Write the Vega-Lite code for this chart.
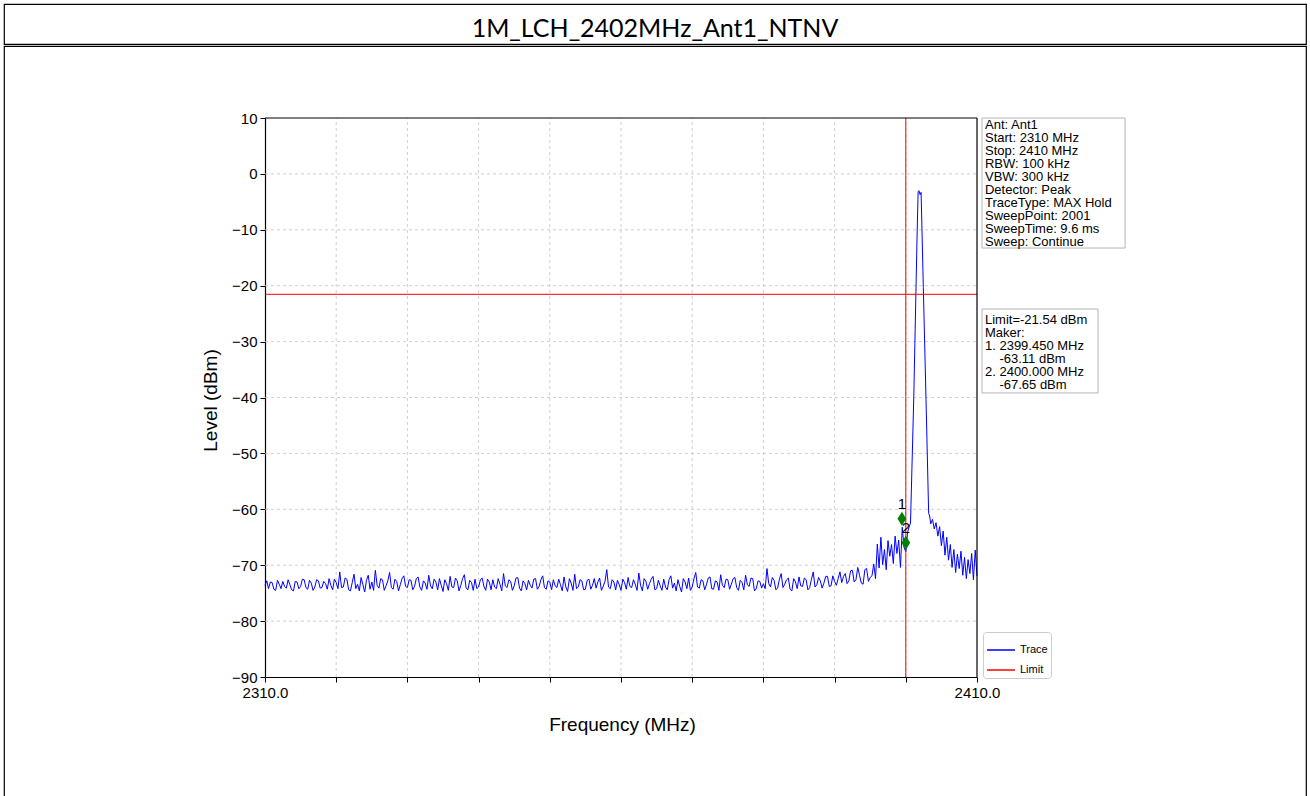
{
  "$schema": "https://vega.github.io/schema/vega-lite/v6.json",
  "padding": {"left": 3, "top": 3, "right": 3, "bottom": 0},
  "background": "white",
  "spacing": 0,
  "config": {
    "font": "Liberation Sans",
    "view": {"stroke": "#000000", "strokeWidth": 1.2},
    "concat": {"spacing": 0}
  },
  "vconcat": [
    {
      "width": 1302,
      "height": 40,
      "view": {"stroke": "#000000", "strokeWidth": 1.2, "fill": "#ffffff"},
      "data": {"values": [{"t": "1M_LCH_2402MHz_Ant1_NTNV"}]},
      "mark": {"type": "text", "font": "Lato", "fontSize": 25, "dy": 5, "color": "#000000"},
      "encoding": {"text": {"field": "t", "type": "nominal"}}
    },
    {
      "width": 1302,
      "height": 760,
      "layer": [
        {
          "data": {"values": [{"g": 2320}, {"g": 2330}, {"g": 2340}, {"g": 2350}, {"g": 2360}, {"g": 2370}, {"g": 2380}, {"g": 2390}, {"g": 2400}]},
          "mark": {"type": "rule", "color": "#c4c4c4", "strokeDash": [3, 3], "strokeWidth": 0.8},
          "encoding": {
            "x": {"field": "g", "type": "quantitative", "scale": {"domain": [2310, 2410], "range": [261, 973], "nice": false, "zero": false}, "axis": {
              "title": "Frequency (MHz)", "offset": -129,
              "values": [2310, 2320, 2330, 2340, 2350, 2360, 2370, 2380, 2390, 2400, 2410],
              "labelExpr": "datum.value == 2310 || datum.value == 2410 ? format(datum.value, '.1f') : ''",
              "labelFlush": false, "labelOverlap": false, "labelBound": false,
              "labelFontSize": 15, "labelColor": "#000000", "labelPadding": 3,
              "tickSize": 5, "tickColor": "#000000", "tickWidth": 1,
              "domainColor": "#000000", "domainWidth": 1.2, "grid": false,
              "titleFontSize": 19, "titleFontWeight": "normal", "titleColor": "#000000",
              "titleX": 618, "titleY": 47, "titleBaseline": "middle", "titleAlign": "center"
            }},
            "y": {"datum": -90, "type": "quantitative", "scale": {"domain": [-90, 10], "range": [631, 72], "nice": false, "zero": false}, "axis": {
              "title": "Level (dBm)", "offset": -261,
              "values": [-90, -80, -70, -60, -50, -40, -30, -20, -10, 0, 10],
              "format": "d",
              "labelFlush": false, "labelOverlap": false, "labelBound": false,
              "labelFontSize": 15, "labelColor": "#000000", "labelPadding": 3,
              "tickSize": 5, "tickColor": "#000000", "tickWidth": 1,
              "domainColor": "#000000", "domainWidth": 1.2, "grid": false,
              "titleFontSize": 19, "titleFontWeight": "normal", "titleColor": "#000000",
              "titleX": -55, "titleY": 354, "titleAngle": 270, "titleBaseline": "middle", "titleAlign": "center"
            }},
            "y2": {"datum": 10}
          }
        },
        {
          "data": {"values": [{"g": 0}, {"g": -10}, {"g": -20}, {"g": -30}, {"g": -40}, {"g": -50}, {"g": -60}, {"g": -70}, {"g": -80}]},
          "mark": {"type": "rule", "color": "#c4c4c4", "strokeDash": [3, 3], "strokeWidth": 0.8},
          "encoding": {
            "y": {"field": "g", "type": "quantitative"},
            "x": {"datum": 2310, "type": "quantitative"},
            "x2": {"datum": 2410}
          }
        },
        {
          "data": {"values": [
            {"f":2310,"v":-73.6},{"f":2310.25,"v":-72.8},{"f":2310.5,"v":-74.2},{"f":2310.75,"v":-73.0},{"f":2311,"v":-73.1},{"f":2311.25,"v":-74.3},{"f":2311.5,"v":-74.5},{"f":2311.75,"v":-72.7},{"f":2312,"v":-73.4},{"f":2312.25,"v":-74.2},{"f":2312.5,"v":-72.9},{"f":2312.75,"v":-73.8},{"f":2313,"v":-74.1},{"f":2313.25,"v":-72.6},{"f":2313.5,"v":-73.5},{"f":2313.75,"v":-74.4},{"f":2314,"v":-74.6},{"f":2314.25,"v":-72.9},{"f":2314.5,"v":-73.0},{"f":2314.75,"v":-74.2},{"f":2315,"v":-73.8},{"f":2315.25,"v":-72.5},{"f":2315.5,"v":-72.6},{"f":2315.75,"v":-74.0},{"f":2316,"v":-74.3},{"f":2316.25,"v":-72.7},{"f":2316.5,"v":-73.2},{"f":2316.75,"v":-74.5},{"f":2317,"v":-73.9},{"f":2317.25,"v":-72.6},{"f":2317.5,"v":-72.8},{"f":2317.75,"v":-74.1},{"f":2318,"v":-74.0},{"f":2318.25,"v":-72.9},{"f":2318.5,"v":-73.3},{"f":2318.75,"v":-74.3},{"f":2319,"v":-72.4},{"f":2319.25,"v":-73.6},{"f":2319.5,"v":-74.4},{"f":2319.75,"v":-72.5},{"f":2320,"v":-73.1},
            {"f":2320.25,"v":-74.2},{"f":2320.5,"v":-71.2},{"f":2320.75,"v":-74.0},{"f":2321,"v":-73.9},{"f":2321.25,"v":-72.3},{"f":2321.5,"v":-72.5},{"f":2321.75,"v":-74.4},{"f":2322,"v":-74.6},{"f":2322.25,"v":-73.1},{"f":2322.5,"v":-71.6},{"f":2322.75,"v":-74.2},{"f":2323,"v":-73.4},{"f":2323.25,"v":-74.6},{"f":2323.5,"v":-72.2},{"f":2323.75,"v":-73.5},{"f":2324,"v":-74.8},{"f":2324.25,"v":-72.7},{"f":2324.5,"v":-71.8},{"f":2324.75,"v":-74.3},{"f":2325,"v":-73.0},{"f":2325.25,"v":-74.5},{"f":2325.5,"v":-70.9},{"f":2325.75,"v":-73.6},{"f":2326,"v":-74.1},{"f":2326.25,"v":-72.4},{"f":2326.5,"v":-72.6},{"f":2326.75,"v":-74.5},{"f":2327,"v":-73.7},{"f":2327.25,"v":-72.8},{"f":2327.5,"v":-71.3},{"f":2327.75,"v":-74.0},{"f":2328,"v":-74.3},{"f":2328.25,"v":-72.5},{"f":2328.5,"v":-72.9},{"f":2328.75,"v":-74.6},{"f":2329,"v":-73.5},{"f":2329.25,"v":-72.4},{"f":2329.5,"v":-71.9},{"f":2329.75,"v":-73.8},{"f":2330,"v":-74.0},
            {"f":2330.25,"v":-72.6},{"f":2330.5,"v":-72.7},{"f":2330.75,"v":-74.4},{"f":2331,"v":-73.8},{"f":2331.25,"v":-72.4},{"f":2331.5,"v":-72.1},{"f":2331.75,"v":-73.9},{"f":2332,"v":-74.5},{"f":2332.25,"v":-72.8},{"f":2332.5,"v":-73.2},{"f":2332.75,"v":-74.3},{"f":2333,"v":-71.8},{"f":2333.25,"v":-73.7},{"f":2333.5,"v":-74.2},{"f":2333.75,"v":-72.5},{"f":2334,"v":-73.0},{"f":2334.25,"v":-74.4},{"f":2334.5,"v":-72.4},{"f":2334.75,"v":-73.6},{"f":2335,"v":-74.7},{"f":2335.25,"v":-72.6},{"f":2335.5,"v":-73.3},{"f":2335.75,"v":-74.5},{"f":2336,"v":-72.0},{"f":2336.25,"v":-73.9},{"f":2336.5,"v":-74.0},{"f":2336.75,"v":-72.3},{"f":2337,"v":-72.8},{"f":2337.25,"v":-74.6},{"f":2337.5,"v":-73.6},{"f":2337.75,"v":-72.4},{"f":2338,"v":-71.7},{"f":2338.25,"v":-74.1},{"f":2338.5,"v":-74.4},{"f":2338.75,"v":-72.7},{"f":2339,"v":-73.1},{"f":2339.25,"v":-74.5},{"f":2339.5,"v":-72.5},{"f":2339.75,"v":-74.2},{"f":2340,"v":-73.9},
            {"f":2340.25,"v":-72.6},{"f":2340.5,"v":-72.3},{"f":2340.75,"v":-73.8},{"f":2341,"v":-74.5},{"f":2341.25,"v":-72.5},{"f":2341.5,"v":-73.0},{"f":2341.75,"v":-74.4},{"f":2342,"v":-72.6},{"f":2342.25,"v":-73.9},{"f":2342.5,"v":-74.2},{"f":2342.75,"v":-72.4},{"f":2343,"v":-73.4},{"f":2343.25,"v":-74.6},{"f":2343.5,"v":-71.5},{"f":2343.75,"v":-73.7},{"f":2344,"v":-74.0},{"f":2344.25,"v":-72.6},{"f":2344.5,"v":-72.9},{"f":2344.75,"v":-74.5},{"f":2345,"v":-73.7},{"f":2345.25,"v":-72.3},{"f":2345.5,"v":-72.2},{"f":2345.75,"v":-74.1},{"f":2346,"v":-74.6},{"f":2346.25,"v":-72.8},{"f":2346.5,"v":-73.3},{"f":2346.75,"v":-74.4},{"f":2347,"v":-72.7},{"f":2347.25,"v":-73.6},{"f":2347.5,"v":-74.1},{"f":2347.75,"v":-72.5},{"f":2348,"v":-72.4},{"f":2348.25,"v":-74.3},{"f":2348.5,"v":-73.8},{"f":2348.75,"v":-72.6},{"f":2349,"v":-71.9},{"f":2349.25,"v":-74.0},{"f":2349.5,"v":-74.3},{"f":2349.75,"v":-72.8},{"f":2350,"v":-73.0},
            {"f":2350.25,"v":-74.4},{"f":2350.5,"v":-72.6},{"f":2350.75,"v":-73.7},{"f":2351,"v":-74.0},{"f":2351.25,"v":-72.5},{"f":2351.5,"v":-73.5},{"f":2351.75,"v":-74.6},{"f":2352,"v":-72.1},{"f":2352.25,"v":-73.9},{"f":2352.5,"v":-74.7},{"f":2352.75,"v":-72.4},{"f":2353,"v":-73.2},{"f":2353.25,"v":-74.5},{"f":2353.5,"v":-71.6},{"f":2353.75,"v":-74.2},{"f":2354,"v":-73.9},{"f":2354.25,"v":-72.6},{"f":2354.5,"v":-72.8},{"f":2354.75,"v":-74.4},{"f":2355,"v":-74.3},{"f":2355.25,"v":-72.7},{"f":2355.5,"v":-72.5},{"f":2355.75,"v":-74.3},{"f":2356,"v":-73.6},{"f":2356.25,"v":-72.4},{"f":2356.5,"v":-74.1},{"f":2356.75,"v":-73.0},{"f":2357,"v":-72.3},{"f":2357.25,"v":-74.5},{"f":2357.5,"v":-73.8},{"f":2357.75,"v":-72.9},{"f":2358,"v":-70.8},{"f":2358.25,"v":-73.9},{"f":2358.5,"v":-74.2},{"f":2358.75,"v":-72.6},{"f":2359,"v":-73.0},{"f":2359.25,"v":-74.4},{"f":2359.5,"v":-72.7},{"f":2359.75,"v":-73.5},{"f":2360,"v":-74.5},
            {"f":2360.25,"v":-72.5},{"f":2360.5,"v":-73.1},{"f":2360.75,"v":-74.3},{"f":2361,"v":-72.2},{"f":2361.25,"v":-73.8},{"f":2361.5,"v":-74.0},{"f":2361.75,"v":-72.6},{"f":2362,"v":-73.4},{"f":2362.25,"v":-74.5},{"f":2362.5,"v":-71.4},{"f":2362.75,"v":-73.6},{"f":2363,"v":-74.6},{"f":2363.25,"v":-72.4},{"f":2363.5,"v":-72.9},{"f":2363.75,"v":-74.3},{"f":2364,"v":-73.3},{"f":2364.25,"v":-72.5},{"f":2364.5,"v":-72.0},{"f":2364.75,"v":-74.4},{"f":2365,"v":-74.2},{"f":2365.25,"v":-72.7},{"f":2365.5,"v":-73.7},{"f":2365.75,"v":-74.5},{"f":2366,"v":-72.5},{"f":2366.25,"v":-73.9},{"f":2366.5,"v":-74.4},{"f":2366.75,"v":-72.6},{"f":2367,"v":-71.9},{"f":2367.25,"v":-74.1},{"f":2367.5,"v":-73.2},{"f":2367.75,"v":-74.6},{"f":2368,"v":-72.6},{"f":2368.25,"v":-73.8},{"f":2368.5,"v":-74.8},{"f":2368.75,"v":-72.4},{"f":2369,"v":-73.0},{"f":2369.25,"v":-74.2},{"f":2369.5,"v":-72.3},{"f":2369.75,"v":-74.5},{"f":2370,"v":-73.9},
            {"f":2370.25,"v":-72.4},{"f":2370.5,"v":-71.3},{"f":2370.75,"v":-73.9},{"f":2371,"v":-74.1},{"f":2371.25,"v":-72.6},{"f":2371.5,"v":-72.8},{"f":2371.75,"v":-74.4},{"f":2372,"v":-73.5},{"f":2372.25,"v":-72.3},{"f":2372.5,"v":-72.1},{"f":2372.75,"v":-74.2},{"f":2373,"v":-74.3},{"f":2373.25,"v":-72.8},{"f":2373.5,"v":-73.0},{"f":2373.75,"v":-74.5},{"f":2374,"v":-71.7},{"f":2374.25,"v":-73.6},{"f":2374.5,"v":-74.0},{"f":2374.75,"v":-72.5},{"f":2375,"v":-72.6},{"f":2375.25,"v":-74.3},{"f":2375.5,"v":-73.4},{"f":2375.75,"v":-72.4},{"f":2376,"v":-72.2},{"f":2376.25,"v":-74.0},{"f":2376.5,"v":-74.5},{"f":2376.75,"v":-72.7},{"f":2377,"v":-73.1},{"f":2377.25,"v":-74.4},{"f":2377.5,"v":-71.8},{"f":2377.75,"v":-73.5},{"f":2378,"v":-73.8},{"f":2378.25,"v":-72.3},{"f":2378.5,"v":-72.4},{"f":2378.75,"v":-74.6},{"f":2379,"v":-74.2},{"f":2379.25,"v":-72.8},{"f":2379.5,"v":-72.9},{"f":2379.75,"v":-74.1},{"f":2380,"v":-73.3},
            {"f":2380.25,"v":-74.2},{"f":2380.5,"v":-70.6},{"f":2380.75,"v":-73.3},{"f":2381,"v":-73.9},{"f":2381.25,"v":-72.2},{"f":2381.5,"v":-72.7},{"f":2381.75,"v":-74.4},{"f":2382,"v":-74.1},{"f":2382.25,"v":-72.5},{"f":2382.5,"v":-71.5},{"f":2382.75,"v":-74.0},{"f":2383,"v":-73.4},{"f":2383.25,"v":-72.6},{"f":2383.5,"v":-72.3},{"f":2383.75,"v":-74.3},{"f":2384,"v":-74.6},{"f":2384.25,"v":-72.4},{"f":2384.5,"v":-73.0},{"f":2384.75,"v":-74.2},{"f":2385,"v":-72.1},{"f":2385.25,"v":-73.7},{"f":2385.5,"v":-73.8},{"f":2385.75,"v":-72.3},{"f":2386,"v":-72.6},{"f":2386.25,"v":-74.4},{"f":2386.5,"v":-74.0},{"f":2386.75,"v":-72.5},{"f":2387,"v":-71.2},{"f":2387.25,"v":-73.9},{"f":2387.5,"v":-73.5},{"f":2387.75,"v":-72.2},{"f":2388,"v":-72.8},{"f":2388.25,"v":-74.1},{"f":2388.5,"v":-73.2},{"f":2388.75,"v":-72.0},{"f":2389,"v":-72.0},{"f":2389.25,"v":-73.8},{"f":2389.5,"v":-73.7},{"f":2389.75,"v":-71.9},{"f":2390,"v":-72.9},
            {"f":2390.25,"v":-73.6},{"f":2390.5,"v":-72.4},{"f":2390.75,"v":-71.2},{"f":2391,"v":-73.1},{"f":2391.25,"v":-72.0},{"f":2391.5,"v":-71.5},{"f":2391.75,"v":-73.3},{"f":2392,"v":-72.8},{"f":2392.25,"v":-71.0},{"f":2392.5,"v":-70.9},{"f":2392.75,"v":-73.0},{"f":2393,"v":-72.6},{"f":2393.25,"v":-70.4},{"f":2393.5,"v":-71.8},{"f":2393.75,"v":-73.2},{"f":2394,"v":-73.4},{"f":2394.25,"v":-70.8},{"f":2394.5,"v":-70.6},{"f":2394.75,"v":-72.9},{"f":2395,"v":-72.2},
            {"f":2395.25,"v":-71.9},{"f":2395.5,"v":-69.8},{"f":2395.75,"v":-72.4},{"f":2396,"v":-66.2},{"f":2396.25,"v":-70.5},{"f":2396.5,"v":-65.0},{"f":2396.75,"v":-69.9},{"f":2397,"v":-67.2},{"f":2397.25,"v":-70.8},{"f":2397.5,"v":-65.6},{"f":2397.75,"v":-68.4},{"f":2398,"v":-66.3},{"f":2398.25,"v":-69.7},{"f":2398.5,"v":-64.8},{"f":2398.75,"v":-67.9},{"f":2399,"v":-65.5},{"f":2399.25,"v":-70.4},{"f":2399.5,"v":-63.2},{"f":2399.75,"v":-66.8},{"f":2400,"v":-67.6},{"f":2400.25,"v":-64.1},{"f":2400.5,"v":-63.0},
            {"f":2400.66,"v":-62.5},{"f":2401.12,"v":-40.0},{"f":2401.58,"v":-11.3},{"f":2401.73,"v":-3.2},{"f":2401.85,"v":-3.0},{"f":2402.0,"v":-3.7},{"f":2402.15,"v":-3.3},{"f":2402.46,"v":-20.3},{"f":2402.84,"v":-40.4},{"f":2403.21,"v":-60.7},
            {"f":2403.35,"v":-61.2},{"f":2403.5,"v":-62.6},{"f":2403.75,"v":-61.8},{"f":2404,"v":-63.5},{"f":2404.25,"v":-62.4},{"f":2404.5,"v":-64.8},{"f":2404.75,"v":-63.1},{"f":2405,"v":-66.5},{"f":2405.25,"v":-63.9},{"f":2405.5,"v":-68.2},{"f":2405.75,"v":-65.0},{"f":2406,"v":-69.1},{"f":2406.25,"v":-66.3},{"f":2406.5,"v":-70.4},{"f":2406.75,"v":-67.2},{"f":2407,"v":-71.3},{"f":2407.25,"v":-68.0},{"f":2407.5,"v":-70.6},{"f":2407.75,"v":-67.5},{"f":2408,"v":-71.8},{"f":2408.25,"v":-68.6},{"f":2408.5,"v":-72.4},{"f":2408.75,"v":-69.0},{"f":2409,"v":-71.5},{"f":2409.25,"v":-67.9},{"f":2409.5,"v":-72.6},{"f":2409.75,"v":-67.3},{"f":2410,"v":-71.9}
          ]},
          "mark": {"type": "line", "strokeWidth": 1, "clip": false},
          "encoding": {
            "x": {"field": "f", "type": "quantitative"},
            "y": {"field": "v", "type": "quantitative"},
            "color": {"datum": "Trace", "type": "nominal",
              "scale": {"domain": ["Trace", "Limit"], "range": ["#0000ff", "#ff0000"]},
              "legend": {"orient": "none", "legendX": 979, "legendY": 628, "title": null,
                "symbolType": "stroke", "symbolSize": 784, "symbolStrokeWidth": 1.5,
                "labelFontSize": 11, "labelColor": "#000000", "strokeColor": "#cccccc", "fillColor": "#ffffff",
                "padding": 3, "cornerRadius": 3, "rowPadding": -3}}
          }
        },
        {
          "data": {"values": [{"limit": -21.54}]},
          "mark": {"type": "rule", "strokeWidth": 1},
          "encoding": {
            "y": {"field": "limit", "type": "quantitative"},
            "x": {"datum": 2310, "type": "quantitative"},
            "x2": {"datum": 2410},
            "color": {"datum": "Limit", "type": "nominal"}
          }
        },
        {
          "data": {"values": [{"mf": 2400}]},
          "mark": {"type": "rule", "strokeWidth": 1, "color": "#ff0000"},
          "encoding": {
            "x": {"field": "mf", "type": "quantitative"},
            "y": {"datum": -90, "type": "quantitative"},
            "y2": {"datum": 10}
          }
        },
        {
          "data": {"values": [{}]},
          "mark": {"type": "rule", "strokeWidth": 1.2, "color": "#000000"},
          "encoding": {
            "x": {"datum": 2310, "type": "quantitative"},
            "x2": {"datum": 2410},
            "y": {"datum": 10, "type": "quantitative"}
          }
        },
        {
          "data": {"values": [{}]},
          "mark": {"type": "rule", "strokeWidth": 1.2, "color": "#000000"},
          "encoding": {
            "x": {"datum": 2410, "type": "quantitative"},
            "y": {"datum": -90, "type": "quantitative"},
            "y2": {"datum": 10}
          }
        },
        {
          "data": {"values": [{"m": "1", "f": 2399.45, "v": -61.7}, {"m": "2", "f": 2400.0, "v": -66.0}]},
          "layer": [
            {
              "mark": {"type": "point", "shape": "M0,-1L0.62,0L0,1L-0.62,0Z", "filled": true, "size": 200, "color": "#008000", "opacity": 1},
              "encoding": {
                "x": {"field": "f", "type": "quantitative"},
                "y": {"field": "v", "type": "quantitative"}
              }
            },
            {
              "mark": {"type": "text", "fontSize": 15, "dy": -15, "color": "#000000", "baseline": "middle"},
              "encoding": {
                "x": {"field": "f", "type": "quantitative"},
                "y": {"field": "v", "type": "quantitative"},
                "text": {"field": "m", "type": "nominal"}
              }
            }
          ]
        },
        {
          "data": {"values": [{}]},
          "mark": {"type": "rect", "fill": "#ffffff", "stroke": "#b4b4b4", "strokeWidth": 1},
          "encoding": {
            "x": {"datum": 2410.7, "type": "quantitative"},
            "x2": {"datum": 2430.8},
            "y": {"datum": 10, "type": "quantitative"},
            "y2": {"datum": -13.26}
          }
        },
        {
          "data": {"values": [{}]},
          "mark": {"type": "rect", "fill": "#ffffff", "stroke": "#b4b4b4", "strokeWidth": 1},
          "encoding": {
            "x": {"datum": 2410.7, "type": "quantitative"},
            "x2": {"datum": 2427.0},
            "y": {"datum": -24.17, "type": "quantitative"},
            "y2": {"datum": -39.19}
          }
        },
        {
          "data": {"values": [
            {"txt": "Ant: Ant1\nStart: 2310 MHz\nStop: 2410 MHz\nRBW: 100 kHz\nVBW: 300 kHz\nDetector: Peak\nTraceType: MAX Hold\nSweepPoint: 2001\nSweepTime: 9.6 ms\nSweep: Continue", "ty": 9.8},
            {"txt": "Limit=-21.54 dBm\nMaker:\n1. 2399.450 MHz\n\u200b\u00a0\u00a0\u00a0\u00a0-63.11 dBm\n2. 2400.000 MHz\n\u200b\u00a0\u00a0\u00a0\u00a0-67.65 dBm", "ty": -25.0}
          ]},
          "mark": {"type": "text", "align": "left", "baseline": "top", "fontSize": 13, "lineHeight": 13, "lineBreak": "\n", "color": "#000000"},
          "encoding": {
            "x": {"datum": 2411.12, "type": "quantitative"},
            "y": {"field": "ty", "type": "quantitative"},
            "text": {"field": "txt", "type": "nominal"}
          }
        }
      ]
    }
  ]
}
